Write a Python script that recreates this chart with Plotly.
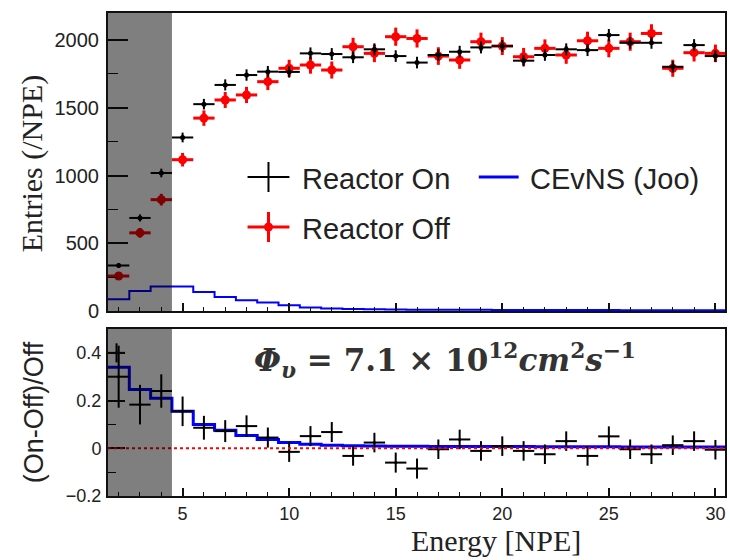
import numpy as np
import plotly.graph_objects as go

# ---------------- data ----------------
energy = [2, 3, 4, 5, 6, 7, 8, 9, 10, 11, 12, 13, 14, 15, 16, 17, 18, 19, 20,
          21, 22, 23, 24, 25, 26, 27, 28, 29, 30]
reactor_on = [336, 687, 1019, 1281, 1527, 1669, 1742, 1767, 1765, 1902, 1897, 1873,
              1932, 1882, 1834, 1890, 1914, 1946, 1956, 1848, 1890, 1932, 1926, 2037,
              1980, 1980, 1803, 1963, 1882]
reactor_on_err = [18, 26, 32, 36, 39, 41, 42, 42, 42, 44, 44, 43, 44, 43, 43, 43, 44,
                  44, 44, 43, 43, 44, 44, 45, 44, 44, 42, 44, 43]
reactor_off = [258, 577, 822, 1117, 1424, 1558, 1595, 1693, 1792, 1816, 1779, 1951,
               1902, 2025, 2012, 1882, 1853, 1988, 1956, 1877, 1939, 1890, 1995, 1939,
               1988, 2049, 1792, 1907, 1902]
reactor_off_err = [24, 36, 43, 50, 57, 59, 60, 62, 63, 64, 63, 66, 65, 67, 67, 65, 65,
                   67, 66, 65, 66, 65, 67, 66, 67, 68, 63, 65, 65]
cevns = [86, 147, 180, 180, 140, 103, 79, 62, 42, 25, 18, 14, 12, 11, 10, 10, 9, 9,
         8, 8, 8, 7, 7, 7, 6, 6, 6, 6, 5]

ratio = [0.30, 0.183, 0.24, 0.155, 0.086, 0.072, 0.093, 0.045, -0.015, 0.051, 0.068,
         -0.032, 0.024, -0.06, -0.085, -0.004, 0.037, -0.011, 0.009, -0.011, -0.025,
         0.03, -0.032, 0.05, -0.004, -0.025, 0.013, 0.03, -0.006]
ratio_err = [0.13, 0.083, 0.07, 0.062, 0.05, 0.046, 0.045, 0.042, 0.042, 0.042, 0.042,
             0.041, 0.041, 0.042, 0.042, 0.041, 0.041, 0.041, 0.041, 0.041, 0.041,
             0.041, 0.041, 0.042, 0.041, 0.041, 0.041, 0.041, 0.041]
ratio_extra_x = [1.9]
ratio_extra = [0.40]
ratio_extra_err = [0.04]
cevns_ratio = [0.34, 0.246, 0.21, 0.155, 0.10, 0.076, 0.054, 0.037, 0.024, 0.017,
               0.013, 0.011, 0.010, 0.009, 0.009, 0.008, 0.008, 0.007, 0.007, 0.007,
               0.006, 0.006, 0.006, 0.006, 0.005, 0.005, 0.005, 0.005, 0.005]

bin_half = 0.5
x_range = [1.5, 30.45]
shade_range = [1.5, 4.5]

# ---------------- figure ----------------
W, H = 730, 560
ML, MR, MT, MB = 108, 3, 13, 64
PH = H - MT - MB


def px(x):
    return (x - ML) / (W - ML - MR)


def py(y):
    return (H - MB - y) / PH


centers = np.array(energy, dtype=float)
edges = np.append(centers - bin_half, centers[-1] + bin_half)

fig = go.Figure()

# top panel
fig.add_trace(go.Scatter(
    x=edges, y=np.append(cevns, cevns[-1]), mode="lines", line_shape="hv",
    line=dict(color="#0000ff", width=2), xaxis="x", yaxis="y", showlegend=False))
fig.add_trace(go.Scatter(
    x=energy, y=reactor_off, mode="markers",
    marker=dict(color="#ff0000", size=9),
    error_y=dict(type="data", array=reactor_off_err, color="#ff0000", thickness=3, width=0),
    error_x=dict(type="constant", value=bin_half, color="#ff0000", thickness=3, width=0),
    xaxis="x", yaxis="y", showlegend=False))
fig.add_trace(go.Scatter(
    x=energy, y=reactor_on, mode="markers",
    marker=dict(color="#000000", size=5),
    error_y=dict(type="data", array=reactor_on_err, color="#000000", thickness=2, width=0),
    error_x=dict(type="constant", value=bin_half, color="#000000", thickness=2, width=0),
    xaxis="x", yaxis="y", showlegend=False))

# bottom panel
fig.add_trace(go.Scatter(
    x=edges, y=np.append(cevns_ratio, cevns_ratio[-1]), mode="lines", line_shape="hv",
    line=dict(color="#0000ff", width=3), xaxis="x2", yaxis="y2", showlegend=False))
fig.add_trace(go.Scatter(
    x=energy, y=ratio, mode="markers",
    marker=dict(color="#000000", size=3),
    error_y=dict(type="data", array=ratio_err, color="#000000", thickness=2, width=0),
    error_x=dict(type="constant", value=bin_half, color="#000000", thickness=2, width=0),
    xaxis="x2", yaxis="y2", showlegend=False))
fig.add_trace(go.Scatter(
    x=ratio_extra_x, y=ratio_extra, mode="markers",
    marker=dict(color="#000000", size=3),
    error_y=dict(type="data", array=ratio_extra_err, color="#000000", thickness=2, width=0),
    error_x=dict(type="constant", value=0.4, color="#000000", thickness=2, width=0),
    xaxis="x2", yaxis="y2", showlegend=False))

top_dom = [py(311), 1.0]
bot_dom = [0.0, py(329)]

tickfont_top = dict(family="Liberation Sans, Arial, sans-serif", size=20, color="#222222")
tickfont_bot = dict(family="Liberation Sans, Arial, sans-serif", size=18, color="#222222")

common_x = dict(range=x_range, showline=True, linecolor="#111111", linewidth=2,
                mirror=True, ticks="inside", ticklen=8, tickwidth=1.5, tickcolor="#111111",
                dtick=5, tick0=0, showgrid=False, zeroline=False,
                minor=dict(ticks="inside", ticklen=4, dtick=1, tick0=0,
                           tickcolor="#111111", tickwidth=1.2, showgrid=False))

fig.update_layout(
    width=W, height=H,
    margin=dict(l=ML, r=MR, t=MT, b=MB),
    paper_bgcolor="white", plot_bgcolor="white",
    xaxis=dict(**common_x, domain=[0, 1], anchor="y", showticklabels=False),
    yaxis=dict(domain=top_dom, range=[0, 2200], anchor="x", showline=True,
               linecolor="#111111", linewidth=2, mirror=True, ticks="inside",
               ticklen=20, tickwidth=1.5, tickcolor="#111111",
               tickvals=[0, 500, 1000, 1500, 2000], showgrid=False, zeroline=False,
               tickfont=tickfont_top, ticklabelstandoff=3,
               minor=dict(ticks="inside", ticklen=10, tickvals=[250, 750, 1250, 1750],
                          tickcolor="#111111", tickwidth=1.2, showgrid=False)),
    xaxis2=dict(**common_x, domain=[0, 1], anchor="y2", showticklabels=True,
                tickfont=tickfont_bot, ticklabelstandoff=0),
    yaxis2=dict(domain=bot_dom, range=[-0.2, 0.5], anchor="x2", showline=True,
                linecolor="#111111", linewidth=2, mirror=True, ticks="inside",
                ticklen=17, tickwidth=1.5, tickcolor="#111111",
                tickvals=[-0.2, 0, 0.2, 0.4], ticktext=["\u22120.2", "0", "0.2", "0.4"],
                showgrid=False, zeroline=False, tickfont=tickfont_bot, ticklabelstandoff=1,
                minor=dict(ticks="inside", ticklen=8, tickvals=[-0.1, 0.1, 0.3],
                           tickcolor="#111111", tickwidth=1.2, showgrid=False)),
)

shapes = []
# zero reference line (bottom)
shapes.append(dict(type="line", xref="x2 domain", yref="y2", x0=0, x1=1, y0=0, y1=0,
                   line=dict(color="#ff0000", width=2, dash="dot"), layer="above"))
# shaded region
for xr, yr in (("x", "y domain"), ("x2", "y2 domain")):
    shapes.append(dict(type="rect", xref=xr, yref=yr, x0=shade_range[0], x1=shade_range[1],
                       y0=0, y1=1, fillcolor="rgba(0,0,0,0.5)", line=dict(width=0),
                       layer="above"))

# legend (drawn manually)
lx0, lx1, lxc = 248, 290, 269
# Reactor On
shapes.append(dict(type="line", xref="paper", yref="paper", x0=px(lx0), x1=px(lx1),
                   y0=py(177), y1=py(177), line=dict(color="#000000", width=2)))
shapes.append(dict(type="line", xref="paper", yref="paper", x0=px(lxc), x1=px(lxc),
                   y0=py(162), y1=py(192), line=dict(color="#000000", width=2)))
# Reactor Off
shapes.append(dict(type="line", xref="paper", yref="paper", x0=px(lx0), x1=px(lx1),
                   y0=py(227), y1=py(227), line=dict(color="#ff0000", width=3)))
shapes.append(dict(type="line", xref="paper", yref="paper", x0=px(lxc), x1=px(lxc),
                   y0=py(212), y1=py(242), line=dict(color="#ff0000", width=3)))
shapes.append(dict(type="circle", xref="paper", yref="paper", x0=px(lxc - 4.5), x1=px(lxc + 4.5),
                   y0=py(227 - 4.5), y1=py(227 + 4.5), fillcolor="#ff0000",
                   line=dict(width=0)))
# CEvNS
shapes.append(dict(type="line", xref="paper", yref="paper", x0=px(480), x1=px(520),
                   y0=py(177), y1=py(177), line=dict(color="#0000ff", width=3)))
fig.update_layout(shapes=shapes)

legfont = dict(family="Liberation Sans, Arial, sans-serif", size=29, color="#222222")
ann = [
    dict(text="Reactor On", x=px(301), y=py(179), xanchor="left", yanchor="middle",
         font=legfont),
    dict(text="Reactor Off", x=px(301), y=py(229), xanchor="left", yanchor="middle",
         font=legfont),
    dict(text="CEvNS (Joo)", x=px(529), y=py(179), xanchor="left", yanchor="middle",
         font=legfont),
    dict(text="<b><i>\u03a6<sub>\u03c5</sub></i> = 7.1 \u00d7 10<sup>12</sup><i>cm</i><sup>2</sup><i>s</i><sup>\u22121</sup></b>",
         x=px(446), y=py(360), xanchor="center", yanchor="middle",
         font=dict(family="DejaVu Serif, serif", size=31, color="#333333")),
    dict(text="Entries (/NPE)", x=px(32), y=py(164), textangle=-90, xanchor="center",
         yanchor="middle", font=dict(family="Liberation Serif, Times New Roman, serif",
                                     size=30, color="#222222")),
    dict(text="(On-Off)/Off", x=px(34), y=py(412), textangle=-90, xanchor="center",
         yanchor="middle", font=dict(family="Liberation Sans, Arial, sans-serif",
                                     size=27, color="#222222")),
    dict(text="Energy [NPE]", x=px(497), y=py(540), xanchor="center", yanchor="middle",
         borderpad=0,
         font=dict(family="Liberation Serif, Times New Roman, serif", size=30,
                   color="#222222")),
]
for a in ann:
    a.update(xref="paper", yref="paper", showarrow=False)
fig.update_layout(annotations=ann)

fig.write_html("out.html")
